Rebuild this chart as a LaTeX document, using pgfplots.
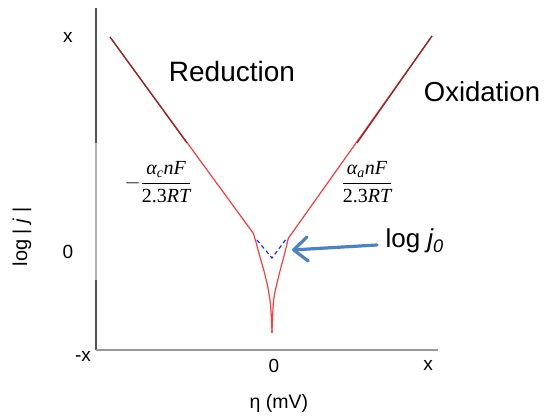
\documentclass[border=0pt]{standalone}
\usepackage{pgfplots}
\pgfplotsset{compat=1.18}
\usepackage{amsmath}
\usepackage{fontspec}
\setmainfont{Liberation Sans}
\newfontfamily\tnr{Liberation Serif}
\usetikzlibrary{arrows.meta}

\definecolor{bvred}{HTML}{FF3B3B}
\definecolor{tafel}{HTML}{8E2A2A}
\definecolor{exdash}{HTML}{1F2FE0}
\definecolor{arrowblue}{HTML}{4F81BD}
\definecolor{axdark}{HTML}{555555}
\definecolor{axlight}{HTML}{B4B4B4}

\newcommand{\ti}[1]{\text{\tnr\itshape #1}}
\newcommand{\tr}[1]{\text{\tnr #1}}

\begin{document}
\begin{tikzpicture}
\begin{axis}[
  x=1pt, y=1pt,
  xmin=-176, xmax=166, ymin=0, ymax=342,
  hide axis,
  clip=false,
]
% page frame
\path (axis cs:-272,-64) rectangle (axis cs:272,350);

% axes
\draw[axdark, line width=1.3pt] (axis cs:-176,342) -- (axis cs:-176,207);
\draw[axlight, line width=1.3pt] (axis cs:-176,207) -- (axis cs:-176,70);
\draw[axdark, line width=1.3pt] (axis cs:-176,70) -- (axis cs:-176,0);
\draw[gray!80, line width=1.3pt] (axis cs:-176,0) -- (axis cs:166,0);

% Butler-Volmer current, log|j| vs overpotential
\addplot[bvred, line width=1.2pt] coordinates {
  (-162,313) (-18.7,116.7) (-16,108) (-14,100) (-12,93) (-10,86)
  (-8,79) (-6,71) (-5.3,68) (-4,62) (-3,56) (-2,50) (-1.2,42)
  (-0.6,33) (-0.2,24) (0,17)
};
\addplot[bvred, line width=1.2pt] coordinates {
  (0,17) (0.2,24) (0.6,33) (1,42) (1.6,50) (3,58) (5,67) (7,75)
  (9,83) (11,90) (13,98) (15,106) (16.3,111.7) (160,314)
};

% Tafel lines
\addplot[tafel, line width=1.3pt] coordinates {(-162,313) (-85,207)};
\addplot[tafel, line width=1.3pt] coordinates {(85,207) (160,314)};

% extrapolation to the exchange current
\addplot[exdash, line width=1.2pt, dash pattern=on 4pt off 3pt] coordinates {
  (-15,110) (0,92) (15,112)
};

\draw[arrowblue, line width=3.2pt, line cap=round,
  -{Straight Barb[length=14pt, width=24pt, line width=3.2pt, round]}]
  (axis cs:105,105) -- (axis cs:20,100);

% tick labels
\node[font=\fontsize{19}{19}\selectfont] at (axis cs:-204,313) {x};
\node[font=\fontsize{19}{19}\selectfont] at (axis cs:-204,98) {0};
\node[font=\fontsize{19}{19}\selectfont] at (axis cs:-189,-6) {-x};
\node[font=\fontsize{19}{19}\selectfont] at (axis cs:2,-16) {0};
\node[font=\fontsize{19}{19}\selectfont] at (axis cs:156,-15) {x};

% axis titles
\node[font=\fontsize{20}{20}\selectfont, rotate=90] at (axis cs:-250,113) {log | \textit{j} |};
\node[font=\fontsize{19.5}{19.5}\selectfont] at (axis cs:7,-53) {η (mV)};

% annotations
\node[font=\fontsize{28}{28}\selectfont, anchor=base] at (axis cs:-40,268) {Reduction};
\node[font=\fontsize{27.5}{27.5}\selectfont, anchor=base] at (axis cs:210,248) {Oxidation};
\node[font=\fontsize{26}{26}\selectfont, anchor=base west] at (axis cs:110,102) {log \textit{j\textsubscript{0}}};

\node[font=\fontsize{20}{20}\selectfont] at (axis cs:-114,168)
  {$-\dfrac{\ti{α}_{\ti{c}}\ti{nF}}{\tr{2.3}\ti{RT}}$};
\node[font=\fontsize{20}{20}\selectfont] at (axis cs:95,168)
  {$\dfrac{\ti{α}_{\ti{a}}\ti{nF}}{\tr{2.3}\ti{RT}}$};
\end{axis}
\end{tikzpicture}
\end{document}
